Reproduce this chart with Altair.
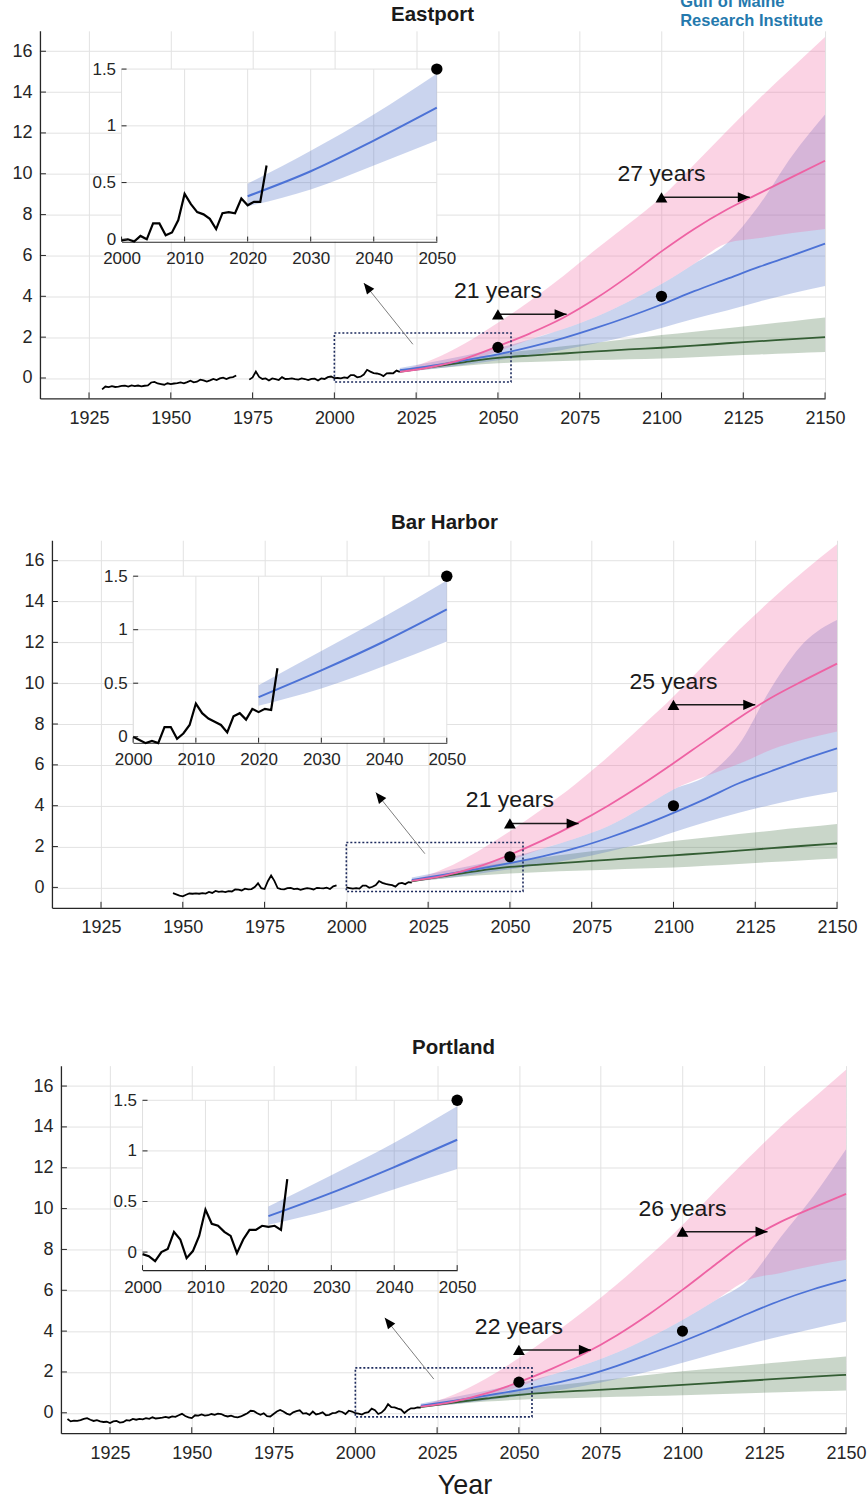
import math
import altair as alt
import pandas as pd

# ---------------------------------------------------------------- styling
FONT = "Liberation Sans"
INK = "#262626"
GRID = "#e2e2e2"
BOX = "#1d2b5e"
PINK, PINK_FILL = "#ee62a3", "#f26ca7"
BLUE, BLUE_FILL = "#4c72d6", "#5070c8"
GREEN, GREEN_FILL = "#335d33", "#3d6b3d"
LOGO_BLUE = "#2479ad"
HEAD = "M0,0L-2,-0.85L-2,0.85Z"  # arrowhead with its tip at the anchor point

# ---------------------------------------------------------------- axes
W = 786
H = 368
X_DOMAIN = [1910, 2150]
Y_DOMAIN = [-1, 17]
X_TICKS = [1925, 1950, 1975, 2000, 2025, 2050, 2075, 2100, 2125, 2150]
Y_TICKS = [0, 2, 4, 6, 8, 10, 12, 14, 16]
INSET_X_DOMAIN = [2000, 2050]
INSET_X_TICKS = [2000, 2010, 2020, 2030, 2040, 2050]
INSET_Y_TICKS = [0, 0.5, 1, 1.5]
INSET_Y_TOP = 1.5

# ---------------------------------------------------------------- shared annotations
PROJ_YEARS = [2020, 2030, 2040, 2050, 2060, 2070, 2080, 2090, 2100, 2110, 2120, 2130, 2140, 2150]
TARGET_YEARS = [2050, 2100]
TARGET_LEVELS = [1.5, 4.0]
BOX_YEARS = [2000, 2054]
BOX_LEVELS = [-0.2, 2.2]
POINTER_YEARS = [2024, 2009]
POINTER_LEVELS = [1.65, 4.65]
LAG_START_YEARS = [2050, 2100]
RECENT_START = 2000
MAIN_END = 2020

# ---------------------------------------------------------------- Eastport
EAST_EARLY_START = 1929
EAST_EARLY = [-0.56, -0.42, -0.45, -0.40, -0.44, -0.42, -0.39, -0.38, -0.42, -0.36,
              -0.40, -0.37, -0.41, -0.38, -0.36, -0.22, -0.19, -0.27, -0.30, -0.33,
              -0.26, -0.30, -0.27, -0.25, -0.22, -0.26, -0.20, -0.13, -0.21, -0.18,
              -0.08, -0.12, -0.18, -0.12, -0.05, -0.10, -0.02, 0.02, -0.05, 0.02,
              0.04, 0.12]
EAST_MID_START = 1974
EAST_MID = [-0.08, 0.03, 0.32, 0.05, -0.05, -0.02, -0.12, -0.02, -0.06, -0.10,
            0.04, -0.05, -0.04, -0.02, -0.06, -0.08, -0.02, -0.05, -0.10, -0.04,
            -0.03, -0.12, -0.02, -0.05, 0.04, 0.07]
EAST_RECENT = [-0.01, 0.00, -0.02, 0.03, 0.00, 0.14, 0.14, 0.035, 0.06, 0.17,
               0.40, 0.31, 0.24, 0.22, 0.18, 0.09, 0.23, 0.24, 0.23, 0.36,
               0.30, 0.33, 0.33, 0.65]
EAST_GREEN_LO = [0.28, 0.45, 0.60, 0.72, 0.78, 0.83, 0.88, 0.92, 0.96, 1.02, 1.09, 1.15, 1.21, 1.27]
EAST_GREEN = [0.30, 0.55, 0.78, 0.98, 1.10, 1.20, 1.30, 1.40, 1.48, 1.58, 1.70, 1.80, 1.90, 2.00]
EAST_GREEN_HI = [0.32, 0.65, 0.93, 1.17, 1.37, 1.55, 1.73, 1.91, 2.10, 2.27, 2.44, 2.61, 2.78, 2.96]
EAST_BLUE_LO = [0.29, 0.44, 0.65, 0.87, 1.10, 1.38, 1.70, 2.05, 2.45, 2.90, 3.30, 3.75, 4.15, 4.50]
EAST_BLUE = [0.38, 0.60, 0.87, 1.16, 1.52, 1.95, 2.45, 3.00, 3.60, 4.25, 4.85, 5.45, 6.00, 6.58]
EAST_BLUE_HI = [0.49, 0.78, 1.10, 1.46, 1.90, 2.40, 3.00, 3.75, 4.60, 5.60, 6.60, 8.50, 10.90, 12.90]
EAST_PINK_LO = [0.28, 0.48, 0.80, 1.30, 1.90, 2.40, 3.00, 3.75, 4.60, 5.60, 6.60, 6.85, 7.10, 7.30]
EAST_PINK = [0.30, 0.55, 0.95, 1.55, 2.20, 2.95, 3.90, 5.00, 6.20, 7.30, 8.25, 9.05, 9.85, 10.64]
EAST_PINK_HI = [0.32, 0.90, 1.70, 2.70, 3.80, 5.00, 6.30, 7.55, 8.85, 10.45, 12.10, 13.70, 15.20, 16.70]
EAST_LAGS = [21, 27]
EAST_LAG_LEVELS = [3.12, 8.85]

# ---------------------------------------------------------------- Bar Harbor
BAR_EARLY_START = 1947
BAR_EARLY = [-0.28, -0.34, -0.40, -0.44, -0.36, -0.30, -0.31, -0.29, -0.31, -0.28,
             -0.30, -0.22, -0.27, -0.17, -0.22, -0.20, -0.23, -0.18, -0.20, -0.10,
             -0.11, -0.15, -0.06, -0.10, -0.08, 0.02, 0.20, -0.04, -0.08, 0.30,
             0.58, 0.32, -0.03, -0.08, -0.10, -0.04, -0.02, -0.08, -0.06, -0.12,
             -0.07, -0.04, -0.06, -0.10, -0.02, -0.04, -0.05, -0.01, -0.08, 0.05,
             0.10]
BAR_RECENT = [0.00, -0.03, -0.06, -0.04, -0.06, 0.09, 0.09, -0.02, 0.03, 0.11,
              0.31, 0.22, 0.17, 0.14, 0.11, 0.04, 0.19, 0.22, 0.16, 0.26,
              0.23, 0.26, 0.25, 0.64]
BAR_GREEN_LO = [0.28, 0.44, 0.58, 0.68, 0.75, 0.81, 0.87, 0.92, 0.97, 1.06, 1.15, 1.24, 1.33, 1.41]
BAR_GREEN = [0.30, 0.55, 0.80, 1.00, 1.13, 1.24, 1.35, 1.46, 1.57, 1.68, 1.80, 1.92, 2.04, 2.15]
BAR_GREEN_HI = [0.32, 0.66, 0.98, 1.25, 1.47, 1.67, 1.87, 2.07, 2.27, 2.44, 2.61, 2.78, 2.94, 3.10]
BAR_BLUE_LO = [0.29, 0.45, 0.66, 0.89, 1.12, 1.40, 1.75, 2.15, 2.70, 3.20, 3.65, 4.05, 4.40, 4.68]
BAR_BLUE = [0.37, 0.62, 0.89, 1.19, 1.52, 1.92, 2.42, 3.00, 3.65, 4.35, 5.10, 5.70, 6.28, 6.81]
BAR_BLUE_HI = [0.48, 0.80, 1.12, 1.46, 1.90, 2.40, 3.00, 3.85, 4.80, 5.45, 7.00, 9.80, 12.00, 13.10]
BAR_PINK_LO = [0.28, 0.50, 0.84, 1.32, 1.90, 2.40, 3.00, 3.85, 4.80, 5.45, 6.05, 6.75, 7.25, 7.63]
BAR_PINK = [0.32, 0.58, 1.00, 1.60, 2.30, 3.10, 4.00, 5.00, 6.08, 7.20, 8.30, 9.30, 10.15, 10.96]
BAR_PINK_HI = [0.34, 0.92, 1.75, 2.75, 3.85, 5.05, 6.40, 7.85, 9.35, 11.00, 12.60, 14.10, 15.50, 16.80]
BAR_LAGS = [21, 25]
BAR_LAG_LEVELS = [3.13, 8.94]

# ---------------------------------------------------------------- Portland
PORT_EARLY_START = 1912
PORT_EARLY = [-0.30, -0.42, -0.38, -0.40, -0.36, -0.30, -0.26, -0.34, -0.40, -0.36,
              -0.42, -0.45, -0.44, -0.50, -0.42, -0.40, -0.48, -0.46, -0.36, -0.38,
              -0.30, -0.34, -0.30, -0.32, -0.26, -0.30, -0.22, -0.28, -0.26, -0.24,
              -0.20, -0.24, -0.18, -0.20, -0.12, -0.05, -0.16, -0.22, -0.26, -0.12,
              -0.14, -0.08, -0.14, -0.12, -0.06, -0.10, -0.04, -0.06, -0.14, -0.18,
              -0.14, -0.20, -0.22, -0.18, -0.10, -0.02, 0.10, 0.08, -0.02, -0.10,
              -0.02, -0.16, -0.18, -0.06, 0.06, 0.14, 0.06, -0.04, -0.10, 0.02,
              0.08, 0.12, -0.04, -0.02, -0.10, 0.06, -0.08, -0.04, 0.02, -0.12,
              -0.10, -0.02, 0.00, 0.08, 0.04, -0.06, 0.10, 0.06]
PORT_RECENT = [-0.02, -0.04, -0.09, 0.00, 0.03, 0.20, 0.125, -0.06, 0.01, 0.16,
               0.42, 0.28, 0.26, 0.20, 0.16, -0.01, 0.125, 0.22, 0.22, 0.26,
               0.25, 0.26, 0.22, 0.72]
PORT_GREEN_LO = [0.26, 0.42, 0.55, 0.64, 0.70, 0.74, 0.78, 0.82, 0.86, 0.91, 0.96, 1.01, 1.05, 1.09]
PORT_GREEN = [0.28, 0.50, 0.70, 0.88, 1.00, 1.09, 1.17, 1.27, 1.37, 1.47, 1.57, 1.67, 1.77, 1.86]
PORT_GREEN_HI = [0.30, 0.60, 0.88, 1.12, 1.32, 1.50, 1.68, 1.86, 2.03, 2.18, 2.33, 2.48, 2.62, 2.76]
PORT_BLUE_LO = [0.27, 0.42, 0.62, 0.82, 1.05, 1.33, 1.66, 2.03, 2.45, 2.90, 3.35, 3.75, 4.12, 4.47]
PORT_BLUE = [0.355, 0.585, 0.84, 1.11, 1.42, 1.80, 2.30, 2.88, 3.49, 4.15, 4.85, 5.50, 6.05, 6.51]
PORT_BLUE_HI = [0.45, 0.76, 1.08, 1.44, 1.86, 2.35, 2.95, 3.70, 4.55, 5.50, 6.50, 8.60, 10.60, 12.90]
PORT_PINK_LO = [0.27, 0.47, 0.80, 1.28, 1.86, 2.35, 2.95, 3.70, 4.55, 5.50, 6.50, 6.85, 7.20, 7.49]
PORT_PINK = [0.30, 0.55, 0.95, 1.50, 2.15, 2.90, 3.80, 4.85, 6.02, 7.25, 8.45, 9.35, 10.05, 10.72]
PORT_PINK_HI = [0.33, 0.88, 1.68, 2.68, 3.80, 5.00, 6.30, 7.70, 9.20, 10.85, 12.45, 14.00, 15.40, 16.80]
PORT_LAGS = [22, 26]
PORT_LAG_LEVELS = [3.08, 8.87]

LEFT_MARGIN = 40  # room for the y-axis labels, shared by the three panels


def series(start, values, seg):
    return pd.DataFrame({"year": list(range(start, start + len(values))),
                         "level": values, "seg": seg})


def projections(g_lo, g, g_hi, b_lo, b, b_hi, p_lo, p, p_hi):
    return pd.DataFrame({"year": PROJ_YEARS,
                         "g_lo": g_lo, "g": g, "g_hi": g_hi,
                         "b_lo": b_lo, "b": b, "b_hi": b_hi,
                         "p_lo": p_lo, "p": p, "p_hi": p_hi})


def panel(name, hist, recent, proj, lags, lag_levels, geo, x_title=None, logo=False):
    sh = geo["shift"]  # horizontal offset of the plotting area inside the panel
    ix0, ix1, iy_top, iy_bot, iy_lo = geo["inset"]
    ix0, ix1 = ix0 + sh, ix1 + sh

    xs = alt.Scale(domain=X_DOMAIN, range=[sh, sh + W], nice=False, zero=False)
    ys = alt.Scale(domain=Y_DOMAIN, nice=False, zero=False)

    def X(f, axis=None):
        return alt.X(f, type="quantitative", scale=xs, axis=axis)

    def Y(f, axis=None):
        return alt.Y(f, type="quantitative", scale=ys, axis=axis)

    x_kw = dict(values=X_TICKS, format="d", orient="bottom", grid=True, gridColor=GRID,
                ticks=False, labelPadding=11, labelFlush=False, labelFontSize=18)
    if x_title:
        x_axis = alt.Axis(title=x_title, titleFontSize=27, titlePadding=10,
                          titleX=sh + 404, **x_kw)
    else:
        x_axis = alt.Axis(title=None, **x_kw)
    y_axis = alt.Axis(values=Y_TICKS, format="d", orient="left", offset=-sh, grid=True,
                      gridColor=GRID, ticks=False, labelPadding=8, labelFlush=False,
                      labelFontSize=18, title=None)

    base = alt.Chart(proj)
    layers = [
        base.mark_area(color=GREEN_FILL, opacity=0.28, interpolate="monotone").encode(
            x=X("year", x_axis), y=Y("g_lo", y_axis), y2="g_hi"),
        base.mark_area(color=BLUE_FILL, opacity=0.3, interpolate="monotone").encode(
            x=X("year"), y=Y("b_lo"), y2="b_hi"),
        base.mark_area(color=PINK_FILL, opacity=0.3, interpolate="monotone").encode(
            x=X("year"), y=Y("p_lo"), y2="p_hi"),
        base.mark_line(color=GREEN, strokeWidth=1.8, interpolate="monotone").encode(
            x=X("year"), y=Y("g")),
        base.mark_line(color=BLUE, strokeWidth=1.8, interpolate="monotone").encode(
            x=X("year"), y=Y("b")),
        base.mark_line(color=PINK, strokeWidth=1.8, interpolate="monotone").encode(
            x=X("year"), y=Y("p")),
        alt.Chart(hist).mark_line(color="black", strokeWidth=1.8).encode(
            x=X("year"), y=Y("level"), detail="seg:N"),
    ]

    box_df = pd.DataFrame({"x0": [BOX_YEARS[0]], "x1": [BOX_YEARS[1]],
                           "y0": [BOX_LEVELS[0]], "y1": [BOX_LEVELS[1]]})
    layers.append(alt.Chart(box_df).mark_rect(fillOpacity=0, stroke=BOX, strokeWidth=1.6,
                                              strokeDash=[2, 2]).encode(
        x=X("x0"), x2="x1", y=Y("y0"), y2="y1"))

    ptr_df = pd.DataFrame({"x0": [POINTER_YEARS[0]], "x1": [POINTER_YEARS[1]],
                           "y0": [POINTER_LEVELS[0]], "y1": [POINTER_LEVELS[1]]})
    kx = W / (X_DOMAIN[1] - X_DOMAIN[0])
    ky = H / (Y_DOMAIN[1] - Y_DOMAIN[0])
    ang = math.degrees(math.atan2(-(POINTER_LEVELS[1] - POINTER_LEVELS[0]) * ky,
                                  (POINTER_YEARS[1] - POINTER_YEARS[0]) * kx)) % 360
    layers.append(alt.Chart(ptr_df).mark_rule(color="#7d7d7d", strokeWidth=1).encode(
        x=X("x0"), x2="x1", y=Y("y0"), y2="y1"))
    layers.append(alt.Chart(ptr_df).mark_point(shape=HEAD, filled=True, color="black",
                                               opacity=1, size=120, angle=ang).encode(
        x=X("x1"), y=Y("y1")))

    tgt_df = pd.DataFrame({"year": TARGET_YEARS, "level": TARGET_LEVELS})
    layers.append(alt.Chart(tgt_df).mark_circle(color="black", opacity=1, size=125).encode(
        x=X("year"), y=Y("level")))

    lag_df = pd.DataFrame({"x0": LAG_START_YEARS, "n": lags, "level": lag_levels})
    lag_df["x1"] = lag_df["x0"] + lag_df["n"]
    lag_df["label"] = lag_df["n"].astype(str) + " years"
    lag_base = alt.Chart(lag_df)
    layers += [
        lag_base.mark_rule(color="#1a1a1a", strokeWidth=1.5).encode(
            x=X("x0"), x2="x1", y=Y("level")),
        lag_base.mark_point(shape="triangle-up", filled=True, color="black", opacity=1,
                            size=140).encode(x=X("x0"), y=Y("level")),
        lag_base.mark_point(shape=HEAD, filled=True, color="black", opacity=1,
                            size=144).encode(x=X("x1"), y=Y("level")),
        lag_base.mark_text(fontSize=23, color="#1a1a1a", dy=-23).encode(
            x=X("x0"), y=Y("level"), text="label:N"),
        alt.Chart(pd.DataFrame({"t": X_TICKS})).mark_rule(color=INK).encode(
            x=X("t"), y=alt.value(H), y2=alt.value(H - 6)),
        alt.Chart(pd.DataFrame({"t": Y_TICKS})).mark_rule(color=INK).encode(
            y=Y("t"), x=alt.value(sh), x2=alt.value(sh + 6)),
    ]

    # ------------------------------------------------ inset, 2000-2050
    ixs = alt.Scale(domain=INSET_X_DOMAIN, range=[ix0, ix1], nice=False, zero=False)
    iys = alt.Scale(domain=[iy_lo, INSET_Y_TOP], range=[iy_bot, iy_top], nice=False, zero=False)

    def IX(f, axis=None):
        return alt.X(f, type="quantitative", scale=ixs, axis=axis)

    def IY(f, axis=None):
        return alt.Y(f, type="quantitative", scale=iys, axis=axis)

    ix_axis = alt.Axis(values=INSET_X_TICKS, format="d", orient="bottom", offset=iy_bot - H,
                       grid=False, ticks=False, labelPadding=9, labelFlush=False, title=None)
    iy_axis = alt.Axis(values=INSET_Y_TICKS, format="~g", orient="left", offset=-ix0,
                       grid=False, ticks=False, labelPadding=6, labelFlush=False, title=None)

    bg_df = pd.DataFrame({"x0": [INSET_X_DOMAIN[0]], "x1": [INSET_X_DOMAIN[1]],
                          "y0": [iy_lo], "y1": [INSET_Y_TOP]})
    near = proj[proj["year"] <= INSET_X_DOMAIN[1]]
    layers += [
        alt.Chart(bg_df).mark_rect(color="white", opacity=1).encode(
            x=IX("x0"), x2="x1", y=IY("y0"), y2="y1"),
        alt.Chart(pd.DataFrame({"t": INSET_X_TICKS})).mark_rule(color=GRID).encode(
            x=IX("t", ix_axis), y=alt.value(iy_top), y2=alt.value(iy_bot)),
        alt.Chart(pd.DataFrame({"t": INSET_Y_TICKS})).mark_rule(color=GRID).encode(
            y=IY("t", iy_axis), x=alt.value(ix0), x2=alt.value(ix1)),
        alt.Chart(near).mark_area(color=BLUE_FILL, opacity=0.3, interpolate="monotone").encode(
            x=IX("year"), y=IY("b_lo"), y2="b_hi"),
        alt.Chart(near).mark_line(color=BLUE, strokeWidth=2, interpolate="monotone").encode(
            x=IX("year"), y=IY("b")),
        alt.Chart(recent).mark_line(color="black", strokeWidth=2.2).encode(
            x=IX("year"), y=IY("level")),
        alt.Chart(pd.DataFrame({"year": [TARGET_YEARS[0]], "level": [TARGET_LEVELS[0]]})
                  ).mark_circle(color="black", opacity=1, size=130).encode(
            x=IX("year"), y=IY("level")),
        alt.Chart(pd.DataFrame({"t": INSET_X_TICKS})).mark_rule(color=INK).encode(
            x=IX("t"), y=alt.value(iy_bot), y2=alt.value(iy_bot - 5)),
        alt.Chart(pd.DataFrame({"t": INSET_Y_TICKS})).mark_rule(color=INK).encode(
            y=IY("t"), x=alt.value(ix0), x2=alt.value(ix0 + 5)),
    ]

    # ------------------------------------------------ heading and cell extent
    one = alt.Data(values=[{}])
    layers += [
        alt.Chart(one).mark_text(text=name, fontSize=20.5, fontWeight="bold", color="#1a1a1a",
                                 baseline="middle").encode(
            x=alt.value(sh + W / 2), y=alt.value(geo["title_y"])),
        alt.Chart(one).mark_rule(opacity=0).encode(
            x=alt.value(-LEFT_MARGIN), y=alt.value(-geo["top"]), y2=alt.value(H + geo["bottom"])),
    ]
    if logo:
        layers += [
            alt.Chart(one).mark_text(text="Gulf of Maine", fontSize=16.5, fontWeight="bold",
                                     color=LOGO_BLUE, align="left", baseline="middle").encode(
                x=alt.value(sh + 641), y=alt.value(-29)),
            alt.Chart(one).mark_text(text="Research Institute", fontSize=16.5, fontWeight="bold",
                                     color=LOGO_BLUE, align="left", baseline="middle").encode(
                x=alt.value(sh + 641), y=alt.value(-10)),
        ]

    return alt.layer(*layers).resolve_scale(
        x="independent", y="independent").properties(width=W + sh, height=H)


east_hist = pd.concat([series(EAST_EARLY_START, EAST_EARLY, "a"),
                       series(EAST_MID_START, EAST_MID, "b"),
                       series(RECENT_START, EAST_RECENT[:MAIN_END - RECENT_START + 1], "b")])
bar_hist = pd.concat([series(BAR_EARLY_START, BAR_EARLY, "a"),
                      series(RECENT_START, BAR_RECENT[:MAIN_END - RECENT_START + 1], "b")])
port_hist = pd.concat([series(PORT_EARLY_START, PORT_EARLY, "a"),
                       series(RECENT_START, PORT_RECENT[:MAIN_END - RECENT_START + 1], "a")])

east = panel("Eastport", east_hist, series(RECENT_START, EAST_RECENT, "r"),
             projections(EAST_GREEN_LO, EAST_GREEN, EAST_GREEN_HI, EAST_BLUE_LO, EAST_BLUE,
                         EAST_BLUE_HI, EAST_PINK_LO, EAST_PINK, EAST_PINK_HI),
             EAST_LAGS, EAST_LAG_LEVELS,
             dict(shift=0, top=40, bottom=40, title_y=-16,
                  inset=(81.7, 397.3, 38.3, 211, -0.02)),
             logo=True)
bar = panel("Bar Harbor", bar_hist, series(RECENT_START, BAR_RECENT, "r"),
            projections(BAR_GREEN_LO, BAR_GREEN, BAR_GREEN_HI, BAR_BLUE_LO, BAR_BLUE,
                        BAR_BLUE_HI, BAR_PINK_LO, BAR_PINK, BAR_PINK_HI),
            BAR_LAGS, BAR_LAG_LEVELS,
            dict(shift=12, top=102, bottom=40, title_y=-17,
                 inset=(81.3, 395.3, 36, 202.7, -0.056)))
port = panel("Portland", port_hist, series(RECENT_START, PORT_RECENT, "r"),
             projections(PORT_GREEN_LO, PORT_GREEN, PORT_GREEN_HI, PORT_BLUE_LO, PORT_BLUE,
                         PORT_BLUE_HI, PORT_PINK_LO, PORT_PINK, PORT_PINK_HI),
             PORT_LAGS, PORT_LAG_LEVELS,
             dict(shift=21, top=118, bottom=66, title_y=-18,
                  inset=(81.7, 396.7, 34.7, 204.7, -0.178)),
             x_title="Year")

chart = alt.ConcatChart(
    concat=[east, bar, port], columns=1, spacing=0,
    padding={"top": -10, "left": 0, "right": 0, "bottom": 0},
).configure_view(stroke=None).configure_axis(
    labelFont=FONT, labelFontSize=17, labelColor=INK, domainColor=INK, domainWidth=1.3,
    titleFont=FONT, titleFontWeight="normal", titleColor="#1a1a1a",
).configure_text(font=FONT)

chart.save("out.html", embed_options={"renderer": "svg", "actions": False})
